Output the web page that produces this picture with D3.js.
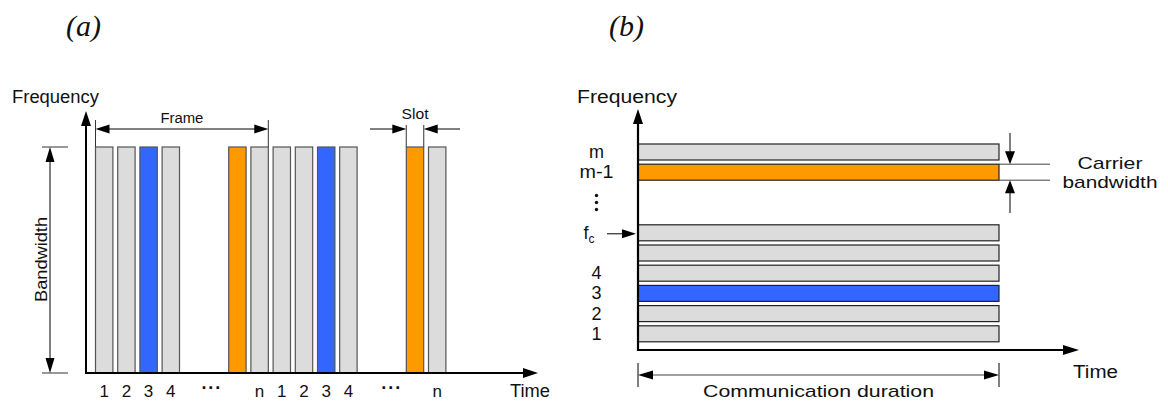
<!DOCTYPE html>
<html>
<head>
<meta charset="utf-8">
<script src="https://cdn.jsdelivr.net/npm/d3@7"></script>
<style>
  html, body { margin: 0; padding: 0; background: #fff; }
  text { font-family: "Liberation Sans", Arial, sans-serif; fill: #111; }
</style>
</head>
<body>
<div id="chart"></div>
<script>
// (a) TDMA: slot index of each bar, its colour, and the labels under the time axis
const slotsA = [0, 1, 2, 3, 6, 7, 8, 9, 10, 11, 14, 15];
const slotColorsA = ['gray', 'gray', 'blue', 'gray', 'orange', 'gray', 'gray', 'gray', 'blue', 'gray', 'orange', 'gray'];
const tickLabelsA = ['1', '2', '3', '4', '···', 'n', '1', '2', '3', '4', '···', 'n'];
const tickPosA = [0, 1, 2, 3, 4.85, 7, 8, 9, 10, 11, 12.95, 15];
const frameA = [0, 7];   // first / last slot of a frame
const slotA = 14;        // slot that carries the "Slot" dimension

// (b) FDMA: carrier rows, colours and labels on the frequency axis
const rowsB = [1, 2, 3, 4, 5, 6, 9, 10];
const rowColorsB = ['gray', 'gray', 'blue', 'gray', 'gray', 'gray', 'orange', 'gray'];
const rowLabelsB = ['1', '2', '3', '4', 'f', 'm-1', 'm'];
const rowLabelPosB = [1, 2, 3, 4, 6, 9, 10];
const carrierRowB = 9;

const palette = { gray: '#dcdcdc', blue: '#3366ff', orange: '#ff9900' };

const W = 1168, H = 401;
const svg = d3.select('#chart').append('svg')
    .attr('width', W).attr('height', H);

// filled triangle arrow head; dir = 'up' | 'down' | 'left' | 'right'
function head(g, x, y, dir, len, half) {
    let p;
    if (dir === 'up') p = [[x, y], [x - half, y + len], [x + half, y + len]];
    if (dir === 'down') p = [[x, y], [x - half, y - len], [x + half, y - len]];
    if (dir === 'left') p = [[x, y], [x + len, y - half], [x + len, y + half]];
    if (dir === 'right') p = [[x, y], [x - len, y - half], [x - len, y + half]];
    g.append('path').attr('d', 'M' + p.join('L') + 'Z').attr('fill', '#000');
}
function line(g, x1, y1, x2, y2, w, c) {
    g.append('line').attr('x1', x1).attr('y1', y1).attr('x2', x2).attr('y2', y2)
        .attr('stroke', c || '#000').attr('stroke-width', w || 1);
}

// titles
svg.append('text').attr('x', 66).attr('y', 36).text('(a)')
    .style('font-family', '"Liberation Serif", serif').style('font-style', 'italic').style('font-size', '30px');
svg.append('text').attr('x', 609).attr('y', 36).text('(b)')
    .style('font-family', '"Liberation Serif", serif').style('font-style', 'italic').style('font-size', '30px');

// ---------- panel (a) ----------
const ga = svg.append('g');
const xA = d3.scaleLinear().domain([0, 16]).range([95.5, 95.5 + 16 * 22.2]);
const yA = d3.scaleLinear().domain([0, 1]).range([373, 147]);
const barW = 17.4;

ga.selectAll('rect.slot')
    .data(slotsA)
    .enter()
    .append('rect')
    .attr('x', d => xA(d))
    .attr('y', yA(1))
    .attr('width', barW)
    .attr('height', yA(0) - yA(1))
    .attr('fill', (d, i) => palette[slotColorsA[i]])
    .attr('stroke', '#555')
    .attr('stroke-width', 1.2);

// axes
line(ga, 86, yA(0), 86, 124, 2);
head(ga, 86, 111, 'up', 15, 5);
line(ga, 85, yA(0), 525, yA(0), 2);
head(ga, 538, yA(0), 'right', 15, 5);

// tick labels
ga.selectAll('text.tick')
    .data(tickLabelsA)
    .enter()
    .append('text')
    .attr('x', (d, i) => xA(tickPosA[i]) + barW / 2)
    .attr('y', d => d === '···' ? 394 : 397)
    .attr('text-anchor', 'middle')
    .style('font-size', d => d === '···' ? '18px' : '17px')
    .style('font-weight', d => d === '···' ? 'bold' : null)
    .style('letter-spacing', d => d === '···' ? '1px' : null)
    .text(d => d);

svg.append('text').attr('x', 12).attr('y', 103).text('Frequency')
    .style('font-size', '18px').attr('textLength', 87).attr('lengthAdjust', 'spacingAndGlyphs');
svg.append('text').attr('x', 510).attr('y', 397).text('Time')
    .style('font-size', '18px').attr('textLength', 40).attr('lengthAdjust', 'spacingAndGlyphs');

// Frame dimension
const fx1 = xA(frameA[0]), fx2 = xA(frameA[1]) + barW;
line(ga, fx1, 120, fx1, yA(1), 1, '#333');
line(ga, fx2, 120, fx2, yA(1), 1, '#333');
line(ga, fx1 + 10, 129, fx2 - 10, 129, 1);
head(ga, fx1, 129, 'left', 14, 4.5);
head(ga, fx2, 129, 'right', 14, 4.5);
ga.append('text').attr('x', (fx1 + fx2) / 2).attr('y', 123).attr('text-anchor', 'middle')
    .style('font-size', '14px').attr('textLength', 43).attr('lengthAdjust', 'spacingAndGlyphs').text('Frame');

// Slot dimension
const sx1 = xA(slotA), sx2 = xA(slotA) + barW;
line(ga, sx1, 125, sx1, yA(1), 1.2, '#555');
line(ga, sx2, 125, sx2, yA(1), 1.2, '#555');
line(ga, 370, 129, sx1 - 10, 129, 1);
head(ga, sx1, 129, 'right', 14, 4.5);
line(ga, sx2 + 10, 129, 460, 129, 1);
head(ga, sx2, 129, 'left', 14, 4.5);
ga.append('text').attr('x', (sx1 + sx2) / 2).attr('y', 119).attr('text-anchor', 'middle')
    .style('font-size', '15px').attr('textLength', 27).attr('lengthAdjust', 'spacingAndGlyphs').text('Slot');

// Bandwidth dimension
line(ga, 42, yA(1), 68, yA(1), 1, '#333');
line(ga, 42, yA(0), 68, yA(0), 1, '#333');
line(ga, 50, yA(1) + 10, 50, yA(0) - 10, 1);
head(ga, 50, yA(1), 'up', 15, 4.5);
head(ga, 50, yA(0), 'down', 15, 4.5);
ga.append('text').attr('transform', 'translate(47,259.5) rotate(-90)').attr('text-anchor', 'middle')
    .style('font-size', '16px').attr('textLength', 85).attr('lengthAdjust', 'spacingAndGlyphs').text('Bandwidth');

// ---------- panel (b) ----------
const gb = svg.append('g');
const xB = d3.scaleLinear().domain([0, 1]).range([638, 999]);
const yB = d3.scaleLinear().domain([0, 10]).range([346, 144]);
const rowH = 16;

gb.selectAll('rect.row')
    .data(rowsB)
    .enter()
    .append('rect')
    .attr('x', xB(0))
    .attr('y', d => yB(d))
    .attr('width', xB(1) - xB(0))
    .attr('height', rowH)
    .attr('fill', (d, i) => palette[rowColorsB[i]])
    .attr('stroke', '#222')
    .attr('stroke-width', 1.2);

line(gb, 638, 351, 638, 122, 2.2);
head(gb, 638, 109, 'up', 15, 5);
line(gb, 637, 350, 1064, 350, 2.2);
head(gb, 1079, 350, 'right', 16, 5);

// row labels
gb.selectAll('text.row')
    .data(rowLabelsB)
    .enter()
    .append('text')
    .attr('x', d => d === 'f' ? 589 : 596.5)
    .attr('y', (d, i) => yB(rowLabelPosB[i]) + rowH / 2 + 6)
    .attr('text-anchor', 'middle')
    .style('font-size', '18px')
    .attr('textLength', d => d === 'm-1' ? 34 : null)
    .attr('lengthAdjust', 'spacingAndGlyphs')
    .text(d => d)
    .filter(d => d === 'f')
    .append('tspan').attr('dy', 4).style('font-size', '12px').text('c');

// vertical ellipsis between row 6 and row m-1
gb.append('g').selectAll('circle')
    .data([0, 1, 2])
    .enter()
    .append('circle')
    .attr('cx', 596.5)
    .attr('cy', d => yB(7.5) + rowH / 2 - 7 + d * 7)
    .attr('r', 1.7)
    .attr('fill', '#111');

// fc arrow
line(gb, 607, yB(6) + 9, 623, yB(6) + 9, 1);
head(gb, 636, yB(6) + 9, 'right', 14, 4.5);

svg.append('text').attr('x', 577).attr('y', 103).text('Frequency')
    .style('font-size', '18px').attr('textLength', 100).attr('lengthAdjust', 'spacingAndGlyphs');
svg.append('text').attr('x', 1073).attr('y', 378).text('Time')
    .style('font-size', '18px').attr('textLength', 45).attr('lengthAdjust', 'spacingAndGlyphs');

// Carrier bandwidth dimension
const cy1 = yB(carrierRowB), cy2 = yB(carrierRowB) + rowH;
line(gb, xB(1), cy1, 1050, cy1, 1, '#444');
line(gb, xB(1), cy2, 1050, cy2, 1, '#444');
line(gb, 1010, 133, 1010, cy1 - 12, 1);
head(gb, 1010, cy1, 'down', 13, 5);
line(gb, 1010, cy2 + 12, 1010, 213, 1);
head(gb, 1010, cy2, 'up', 13, 5);
gb.append('text').attr('x', 1110).attr('y', 169).attr('text-anchor', 'middle')
    .style('font-size', '17px').attr('textLength', 65).attr('lengthAdjust', 'spacingAndGlyphs').text('Carrier');
gb.append('text').attr('x', 1110).attr('y', 188).attr('text-anchor', 'middle')
    .style('font-size', '17px').attr('textLength', 95).attr('lengthAdjust', 'spacingAndGlyphs').text('bandwidth');

// Communication duration dimension
line(gb, xB(0), 363, xB(0), 387, 1);
line(gb, xB(1), 363, xB(1), 387, 1);
line(gb, xB(0) + 10, 375, xB(1) - 10, 375, 1, '#444');
head(gb, xB(0), 375, 'left', 15, 4.5);
head(gb, xB(1), 375, 'right', 15, 4.5);
gb.append('text').attr('x', (xB(0) + xB(1)) / 2).attr('y', 397).attr('text-anchor', 'middle')
    .style('font-size', '17px').attr('textLength', 231).attr('lengthAdjust', 'spacingAndGlyphs')
    .text('Communication duration');
</script>
</body>
</html>
